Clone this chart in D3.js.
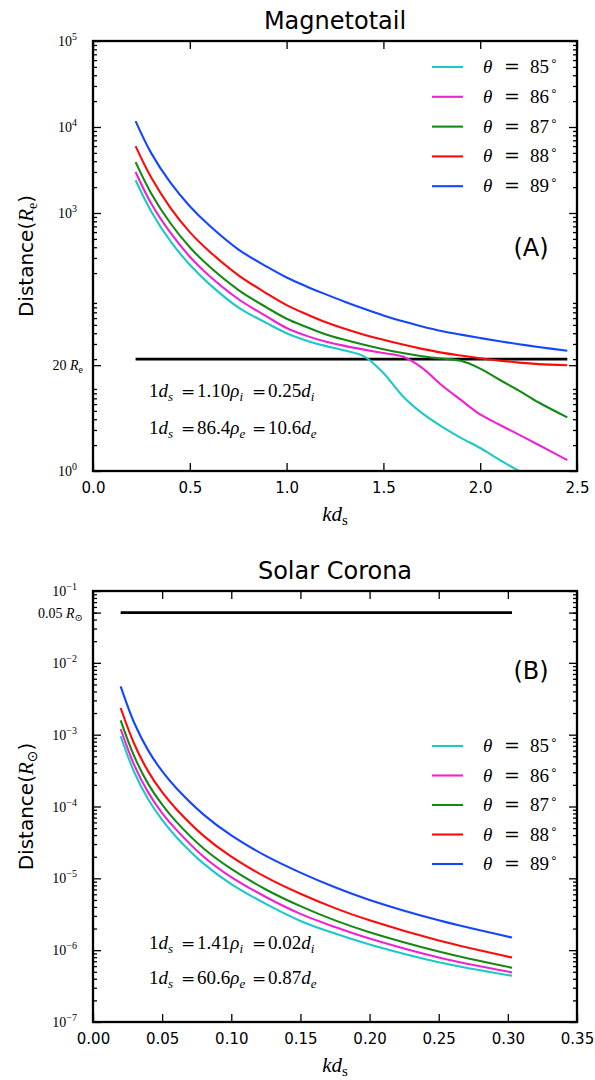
<!DOCTYPE html>
<html><head><meta charset="utf-8">
<script src="https://cdn.jsdelivr.net/npm/d3@7/dist/d3.min.js"></script>
<style>body{margin:0;background:#fff}svg{display:block}</style>
</head><body>
<svg id="c" width="595" height="1080"></svg>
<script>
// ---------- DATA ----------
const thetaLabels = ["85", "86", "87", "88", "89"];
const seriesColors = ["#1cc8c8", "#ee22d4", "#138a13", "#ff0a0a", "#1446ff"];

// Panel A: Magnetotail
const kdA = [0.22, 0.3, 0.4, 0.5, 0.6, 0.75, 0.9, 1.0, 1.1, 1.2, 1.3, 1.4, 1.5, 1.6, 1.7, 1.8, 1.9, 2.0, 2.1, 2.2, 2.3, 2.45];
const distA85 = [2400, 1050, 470, 250, 150, 80, 52, 40, 33, 28.5, 25.2, 21.5, 13.8, 7.4, 4.7, 3.3, 2.43, 1.85, 1.35, 1.0, null, null];
const distA86 = [3000, 1300, 590, 310, 186, 100, 62, 46, 37.5, 32, 28.5, 25.8, 23.5, 21.4, 15.8, 10, 6.7, 4.55, 3.45, 2.65, 2.02, 1.34];
const distA87 = [3900, 1700, 760, 400, 240, 128, 79, 59, 47.5, 39, 33.5, 29.3, 26, 23.5, 21.6, 20.3, 19.1, 15.5, 11.5, 8.6, 6.3, 4.2];
const distA88 = [6000, 2600, 1150, 600, 360, 190, 115, 85, 67, 54, 45, 38.5, 33.5, 29.5, 26.3, 23.8, 22, 20.5, 19.2, 18.2, 17.5, 17];
const distA89 = [11700, 5000, 2250, 1200, 720, 378, 236, 178, 141, 114, 93, 77, 64.5, 55, 48, 42.5, 38.5, 35.2, 32.3, 29.8, 27.7, 25];
const refA = {value: 20, from: 0.22, to: 2.45};
const xTicksA = [0.0, 0.5, 1.0, 1.5, 2.0, 2.5];
const yTicksA = [1, 17, 1e3, 1e4, 1e5];
const yTickLabelsA = [
  {base: "10", sup: "0"}, {num: "20 ", sym: "R", sub: "e"},
  {base: "10", sup: "3"}, {base: "10", sup: "4"}, {base: "10", sup: "5"}];
const noteA = [["1.10", "i", "0.25", "i"], ["86.4", "e", "10.6", "e"]];

// Panel B: Solar Corona
const kdB = [0.02, 0.03, 0.04, 0.05, 0.06, 0.08, 0.10, 0.125, 0.15, 0.175, 0.2, 0.25, 0.303];
const distB85 = [9.5e-4, 2.95e-4, 1.25e-4, 6.5e-5, 3.8e-5, 1.6e-5, 8.3e-6, 4.4e-6, 2.55e-6, 1.7e-6, 1.2e-6, 6.8e-7, 4.4e-7];
const distB86 = [1.2e-3, 3.7e-4, 1.56e-4, 8.1e-5, 4.8e-5, 2.0e-5, 1.04e-5, 5.5e-6, 3.2e-6, 2.1e-6, 1.45e-6, 7.9e-7, 4.9e-7];
const distB87 = [1.58e-3, 4.9e-4, 2.05e-4, 1.06e-4, 6.2e-5, 2.6e-5, 1.35e-5, 7.0e-6, 4.1e-6, 2.6e-6, 1.78e-6, 9.6e-7, 5.7e-7];
const distB88 = [2.35e-3, 7.3e-4, 3.06e-4, 1.58e-4, 9.3e-5, 3.9e-5, 2.0e-5, 1.04e-5, 6.1e-6, 3.85e-6, 2.6e-6, 1.36e-6, 7.9e-7];
const distB89 = [4.7e-3, 1.43e-3, 6.0e-4, 3.1e-4, 1.82e-4, 7.7e-5, 3.95e-5, 2.05e-5, 1.2e-5, 7.5e-6, 5.0e-6, 2.6e-6, 1.5e-6];
const refB = {value: 0.05, from: 0.02, to: 0.303};
const xTicksB = [0.00, 0.05, 0.10, 0.15, 0.20, 0.25, 0.30, 0.35];
const yTicksB = [1e-7, 1e-6, 1e-5, 1e-4, 1e-3, 1e-2, 0.05, 1e-1];
const yTickLabelsB = [
  {base: "10", sup: "\u22127"}, {base: "10", sup: "\u22126"}, {base: "10", sup: "\u22125"},
  {base: "10", sup: "\u22124"}, {base: "10", sup: "\u22123"}, {base: "10", sup: "\u22122"},
  {num: "0.05 ", sym: "R", sub: "\u2299"}, {base: "10", sup: "\u22121"}];
const noteB = [["1.41", "i", "0.02", "i"], ["60.6", "e", "0.87", "e"]];

// ---------- DRAW ----------
const svg = d3.select("#c");
const SERIF = "'Liberation Serif','DejaVu Serif',serif";
const DSERIF = "'DejaVu Serif',serif";
const SANS = "'DejaVu Sans',sans-serif";
const L = 93, R = 577;

function panel(cfg) {
  const T = cfg.top, B = cfg.bottom;
  const g = svg.append("g");
  const x = d3.scaleLinear().domain(cfg.xDomain).range([L, R]);
  const y = d3.scaleLog().domain(cfg.yDomain).range([B, T]);
  const clipId = "clip" + cfg.id;
  svg.append("clipPath").attr("id", clipId).append("rect")
    .attr("x", L).attr("y", T).attr("width", R - L).attr("height", B - T);

  // minor log ticks
  const lo = Math.round(Math.log10(cfg.yDomain[0])), hi = Math.round(Math.log10(cfg.yDomain[1]));
  const minor = [];
  for (let e = lo; e < hi; e++) for (let k = 2; k <= 9; k++) minor.push(k * Math.pow(10, e));

  const styleAxis = sel => { sel.select(".domain").remove(); sel.selectAll("line").attr("stroke-width", 1.3); };
  g.append("g").attr("transform", `translate(${L},0)`)
    .call(d3.axisLeft(y).tickValues(minor).tickSize(-4).tickFormat("")).call(styleAxis);
  g.append("g").attr("transform", `translate(${R},0)`)
    .call(d3.axisRight(y).tickValues(minor).tickSize(-4).tickFormat("")).call(styleAxis);
  g.append("g").attr("transform", `translate(${L},0)`)
    .call(d3.axisLeft(y).tickValues(cfg.yTicks).tickSize(-8).tickFormat("")).call(styleAxis);
  g.append("g").attr("transform", `translate(${R},0)`)
    .call(d3.axisRight(y).tickValues(cfg.yTicks).tickSize(-8).tickFormat("")).call(styleAxis);
  g.append("g").attr("transform", `translate(0,${T})`)
    .call(d3.axisTop(x).tickValues(cfg.xTicks).tickSize(-8).tickFormat("")).call(styleAxis);
  const xb = g.append("g").attr("transform", `translate(0,${B})`)
    .call(d3.axisBottom(x).tickValues(cfg.xTicks).tickSize(-8).tickPadding(11).tickFormat(d3.format(cfg.xFmt)))
    .call(styleAxis);
  xb.selectAll("text").attr("font-family", SANS).attr("font-size", 15).attr("fill", "#000");

  // y tick labels
  cfg.yTicks.forEach((v, i) => {
    const lab = cfg.yLabels[i];
    const t = g.append("text").attr("text-anchor", "end").attr("font-family", SERIF)
      .attr("font-size", 14).attr("y", y(v) + 5);
    if (lab.base) {
      t.attr("x", 77);
      t.append("tspan").text(lab.base);
      t.append("tspan").attr("dy", -6).attr("font-size", 10).text(lab.sup);
    } else {
      t.attr("x", 83);
      t.append("tspan").text(lab.num);
      t.append("tspan").attr("font-style", "italic").text(lab.sym);
      t.append("tspan").attr("dy", 3).attr("font-size", 10).text(lab.sub);
    }
  });

  // reference line
  const line = d3.line().x(d => x(d[0])).y(d => y(d[1]));
  g.append("path").datum([[cfg.ref.from, cfg.ref.value], [cfg.ref.to, cfg.ref.value]])
    .attr("d", line).attr("stroke", "#000").attr("stroke-width", 2.6).attr("fill", "none");

  // curves
  const curve = d3.line().defined(d => d[1] != null).x(d => x(d[0])).y(d => y(d[1]))
    .curve(d3.curveCatmullRom.alpha(0.5));
  cfg.series.forEach((vals, i) => {
    const pts = cfg.k.map((kv, j) => [kv, vals[j]]);
    g.append("path").datum(pts).attr("d", curve).attr("clip-path", `url(#${clipId})`)
      .attr("fill", "none").attr("stroke", seriesColors[i]).attr("stroke-width", 2.1);
  });

  // frame
  g.append("rect").attr("x", L).attr("y", T).attr("width", R - L).attr("height", B - T)
    .attr("fill", "none").attr("stroke", "#000").attr("stroke-width", 2.3);

  // title
  g.append("text").attr("x", (L + R) / 2).attr("y", T - 12).attr("text-anchor", "middle")
    .attr("font-family", SANS).attr("font-size", 24).text(cfg.title);

  // panel tag
  g.append("text").attr("x", 531).attr("y", cfg.tagY).attr("text-anchor", "middle")
    .attr("font-family", SANS).attr("font-size", 24).text(cfg.tag);

  // x label
  const xl = g.append("text").attr("x", (L + R) / 2).attr("y", B + 50).attr("text-anchor", "middle")
    .attr("font-family", SERIF).attr("font-size", 21);
  xl.append("tspan").attr("font-style", "italic").text("kd");
  xl.append("tspan").attr("dy", 4).attr("font-size", 15).text("s");

  // y label
  const yl = g.append("text").attr("transform", `translate(33,${(T + B) / 2}) rotate(-90)`)
    .attr("text-anchor", "middle").attr("font-family", SANS).attr("font-size", 20);
  yl.append("tspan").text("Distance(");
  yl.append("tspan").attr("font-family", SERIF).attr("font-style", "italic").attr("font-size", 21).text("R");
  yl.append("tspan").attr("font-family", cfg.ySub === "e" ? SERIF : SANS).attr("dy", 4).attr("font-size", 14).text(cfg.ySub);
  yl.append("tspan").attr("dy", -4).text(")");

  // legend
  cfg.series.forEach((_, i) => {
    const ly = cfg.legendY + i * cfg.legendStep;
    g.append("line").attr("x1", 432).attr("x2", 463).attr("y1", ly).attr("y2", ly)
      .attr("stroke", seriesColors[i]).attr("stroke-width", 2.1);
    const t = g.append("text").attr("y", ly + 6).attr("font-family", SERIF).attr("font-size", 19);
    t.append("tspan").attr("x", 483).attr("font-style", "italic").text("\u03b8");
    t.append("tspan").attr("x", 504).attr("font-family", DSERIF).attr("font-size", 19).text("=");
    t.append("tspan").attr("x", 530).text(thetaLabels[i]);
    t.append("tspan").attr("x", 550).attr("dy", -8).attr("font-family", SANS).attr("font-size", 12).text("\u2218");
  });

  // notes
  cfg.notes.forEach((n, i) => {
    const t = g.append("text").attr("y", cfg.noteY[i]).attr("font-family", SERIF).attr("font-size", 19);
    t.append("tspan").attr("x", 149).text("1");
    t.append("tspan").attr("font-style", "italic").text("d");
    t.append("tspan").attr("font-style", "italic").attr("font-size", 13).attr("dy", 4).text("s");
    t.append("tspan").attr("x", 181).attr("dy", -4).attr("font-family", DSERIF).attr("font-size", 17).text("=");
    t.append("tspan").attr("x", 197).text(n[0]);
    t.append("tspan").attr("font-style", "italic").text("\u03c1");
    t.append("tspan").attr("font-style", "italic").attr("font-size", 13).attr("dy", 4).text(n[1]);
    t.append("tspan").attr("x", 252).attr("dy", -4).attr("font-family", DSERIF).attr("font-size", 17).text("=");
    t.append("tspan").attr("x", 268).text(n[2]);
    t.append("tspan").attr("font-style", "italic").text("d");
    t.append("tspan").attr("font-style", "italic").attr("font-size", 13).attr("dy", 4).text(n[3]);
  });
}

panel({
  id: "A", top: 41, bottom: 471, xDomain: [0, 2.5], yDomain: [1, 1e5], xFmt: ".1f",
  xTicks: xTicksA, yTicks: yTicksA, yLabels: yTickLabelsA, ref: refA,
  k: kdA, series: [distA85, distA86, distA87, distA88, distA89],
  title: "Magnetotail", tag: "(A)", tagY: 256, ySub: "e",
  legendY: 67, legendStep: 29.8, notes: noteA, noteY: [397, 434]
});
panel({
  id: "B", top: 591, bottom: 1022, xDomain: [0, 0.35], yDomain: [1e-7, 1e-1], xFmt: ".2f",
  xTicks: xTicksB, yTicks: yTicksB, yLabels: yTickLabelsB, ref: refB,
  k: kdB, series: [distB85, distB86, distB87, distB88, distB89],
  title: "Solar Corona", tag: "(B)", tagY: 679, ySub: "\u2299",
  legendY: 746, legendStep: 29.5, notes: noteB, noteY: [949, 984]
});
</script>
</body></html>
